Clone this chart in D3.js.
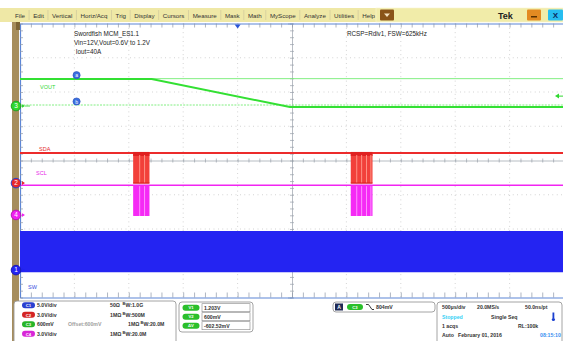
<!DOCTYPE html>
<html>
<head>
<meta charset="utf-8">
<script src="https://cdn.jsdelivr.net/npm/d3@7"></script>
<style>
  html, body { margin: 0; padding: 0; background: #fff; }
  svg { display: block; font-family: "Liberation Sans", Arial, sans-serif; }
</style>
</head>
<body>
<svg id="chart" width="563" height="341"></svg>
<script>
// ---------- Data ----------
const menuItems = ["File", "Edit", "Vertical", "Horiz/Acq", "Trig", "Display", "Cursors", "Measure", "Mask", "Math", "MyScope", "Analyze", "Utilities", "Help"];

// horizontal: 500us/div, 10 divisions, in ms
const timeDomain = [-2.5, 2.5];
// vertical: 8 divisions
const divDomain = [-4, 4];

// VOUT (ch3) in divisions
const voutTimes = [-2.5, -1.29, -0.02, 2.5];
const voutDivs = [2.38, 2.38, 1.56, 1.56];

// SDA (ch2) / SCL (ch4) idle and low levels, in divisions
const sdaLevels = [0.22, -0.66];
const sclLevels = [-0.72, -1.62];
// I2C bursts (ms)
const burstStart = [-1.46, 0.54];
const burstEnd = [-1.31, 0.74];
const burstEdges = [[-1.40, -1.355], [0.595, 0.64, 0.685, 0.725]];

// SW (ch1) switching envelope, in divisions
const swEnvelope = [-2.06, -3.26];

// cursors (ch3) in divisions, trigger level & position
const cursorDivs = [2.39, 1.62];
const cursorNames = ["a", "b"];
const trigLevelDiv = 1.88;
const trigPosMs = -0.5;

// channel ground markers
const chNames = ["3", "2", "4", "1"];
const chMarkerDivs = [1.59, -0.66, -1.59, -3.2];
const chColors = ["#2fd82f", "#e8262a", "#f01ef0", "#2222f0"];

// notes
const notesLeft = ["Swordfish MCM_ES1.1", "Vin=12V,Vout=0.6V to 1.2V", " Iout=40A"];
const noteRight = "RCSP=Rdiv1, FSW=625kHz";

// bottom readouts
const vertRows = [
  ["C1", "5.0V/div", "", "50\u03A9", "1.0G"],
  ["C2", "3.0V/div", "", "1M\u03A9", "500M"],
  ["C3", "600mV", "Offset:600mV", "1M\u03A9", "20.0M"],
  ["C4", "3.0V/div", "", "1M\u03A9", "20.0M"]
];
const pillColors = ["#2a3fd0", "#d42424", "#27b527", "#d826d8"];
const cursorReadLabels = ["V1", "V2", "\u0394V"];
const cursorReadValues = ["1.203V", "600mV", "-602.52mV"];
const trigReadout = ["A", "C3", "804mV"];
const horizRows = [
  ["500\u00B5s/div", "20.0MS/s", "50.0ns/pt"],
  ["Stopped", "Single Seq", ""],
  ["1 acqs", "", "RL:100k"],
  ["Auto", "February 01, 2016", "08:15:10"]
];

// ---------- Drawing ----------
const svg = d3.select("#chart");

// menu bar
svg.append("rect").attr("x", 0).attr("y", 0).attr("width", 563).attr("height", 8).attr("fill", "#fff");
svg.append("rect").attr("x", 0).attr("y", 8).attr("width", 563).attr("height", 14).attr("fill", "#efe8a6");
svg.append("rect").attr("x", 376).attr("y", 8).attr("width", 187).attr("height", 14).attr("fill", "#f1eca9")
  .attr("stroke", "#f8f4cf").attr("stroke-width", 0.6);

const menuG = svg.append("g").style("font-size", "6.2px").attr("fill", "#333");
const menuTexts = menuG.selectAll("text").data(menuItems).join("text").attr("y", 17.5).text(d => d);
const widths = [];
menuTexts.each(function () { widths.push(this.getComputedTextLength()); });
const totalW = d3.sum(widths);
const gap = (375 - 15 - totalW) / (menuItems.length - 1);
let mx = 15;
menuTexts.attr("x", (d, i) => { const v = mx; mx += widths[i] + gap; return v; });
mx = 15;
menuItems.slice(0, -1).forEach((d, i) => {
  mx += widths[i] + gap;
  menuG.append("line").attr("x1", mx - gap / 2).attr("x2", mx - gap / 2).attr("y1", 10).attr("y2", 20)
    .attr("stroke", "#c9c39a").attr("stroke-width", 0.6);
});

// menu buttons
svg.append("rect").attr("x", 380).attr("y", 9.5).attr("width", 14).attr("height", 11).attr("rx", 1).attr("fill", "#8a5418");
svg.append("path").attr("d", "M384,13.5 L390,13.5 L387,17 Z").attr("fill", "#f4e2c0");
svg.append("text").attr("x", 498).attr("y", 18.5).style("font-size", "9px").style("font-weight", "bold").attr("fill", "#222").text("Tek");
svg.append("rect").attr("x", 527).attr("y", 9.5).attr("width", 14).attr("height", 11).attr("rx", 1).attr("fill", "#e38a22");
svg.append("rect").attr("x", 531).attr("y", 16).attr("width", 6).attr("height", 1.5).attr("fill", "#5a3000");
svg.append("rect").attr("x", 548).attr("y", 9.5).attr("width", 15).attr("height", 11).attr("rx", 1).attr("fill", "#26bdf0");
svg.append("text").attr("x", 555.5).attr("y", 18).attr("text-anchor", "middle").style("font-size", "8px").style("font-weight", "bold").attr("fill", "#0a2a60").text("X");

// left tan strip
svg.append("rect").attr("x", 12).attr("y", 22).attr("width", 7).attr("height", 319).attr("fill", "#a68d5c");
svg.append("rect").attr("x", 16).attr("y", 22).attr("width", 4).attr("height", 8).attr("fill", "#7d6536");

// scales
const x = d3.scaleLinear().domain(timeDomain).range([20, 564]);
const y = d3.scaleLinear().domain(divDomain).range([297.5, 23.5]);

const plot = svg.append("g");
plot.append("rect").attr("x", 20).attr("y", 23.5).attr("width", 544).attr("height", 274).attr("fill", "#fff");

// dotted graticule
const majorT = d3.range(-2.5, 2.51, 0.5);
const majorV = d3.range(-4, 4.01, 1);
plot.selectAll("line.gx").data(majorT.filter(t => Math.abs(t) > 1e-6 && Math.abs(Math.abs(t) - 2.5) > 1e-6)).join("line")
  .attr("class", "gx").attr("x1", d => x(d)).attr("x2", d => x(d)).attr("y1", y(4)).attr("y2", y(-4))
  .attr("stroke", "#bdbdbd").attr("stroke-width", 0.8).attr("stroke-dasharray", "0.8,3.6");
plot.selectAll("line.gy").data(majorV.filter(v => v !== 0 && Math.abs(v) !== 4)).join("line")
  .attr("class", "gy").attr("x1", x(-2.5)).attr("x2", x(2.5)).attr("y1", d => y(d)).attr("y2", d => y(d))
  .attr("stroke", "#bdbdbd").attr("stroke-width", 0.8).attr("stroke-dasharray", "0.8,3.6");

// center cross axes with minor ticks
const axX = d3.axisBottom(x).tickValues(d3.range(-2.5, 2.51, 0.1)).tickSize(4).tickFormat("");
const axY = d3.axisLeft(y).tickValues(d3.range(-4, 4.01, 0.2)).tickSize(4).tickFormat("");
const cx = plot.append("g").attr("transform", `translate(0,${y(0) - 2})`).call(axX);
cx.select(".domain").attr("transform", "translate(0,2)");
const cy = plot.append("g").attr("transform", `translate(${x(0) + 2},0)`).call(axY);
cy.select(".domain").attr("transform", "translate(-2,0)");
[cx, cy].forEach(g => {
  g.selectAll("path,line").attr("stroke", "#9aa0aa").attr("stroke-width", 0.7);
});

// edge rulers
const topR = plot.append("g").attr("transform", `translate(0,${y(4)})`)
  .call(d3.axisBottom(x).tickValues(d3.range(-2.5, 2.51, 0.1)).tickSize(4).tickSizeOuter(0).tickFormat(""));
const botR = plot.append("g").attr("transform", `translate(0,${y(-4)})`)
  .call(d3.axisTop(x).tickValues(d3.range(-2.5, 2.51, 0.1)).tickSize(5).tickSizeOuter(0).tickFormat(""));
const leftR = plot.append("g").attr("transform", `translate(${x(-2.5)},0)`)
  .call(d3.axisRight(y).tickValues(d3.range(-4, 4.01, 0.2)).tickSize(3).tickSizeOuter(0).tickFormat(""));
[topR, botR, leftR].forEach(g => {
  g.selectAll("line").attr("stroke", "#8c96a8").attr("stroke-width", 0.7);
  g.select(".domain").attr("stroke", "#5d86d6").attr("stroke-width", 1.2);
});

// SW envelope (ch1)
plot.append("path")
  .datum(timeDomain)
  .attr("d", d3.area().x(d => x(d)).y0(y(swEnvelope[1])).y1(y(swEnvelope[0])))
  .attr("fill", "#2424f2");

// cursors
plot.selectAll("line.cur").data(cursorDivs).join("line").attr("class", "cur")
  .attr("x1", x(-2.5)).attr("x2", x(2.5)).attr("y1", d => y(d)).attr("y2", d => y(d))
  .attr("stroke", "#74ec74").attr("stroke-width", 0.9)
  .attr("stroke-dasharray", (d, i) => i === 1 ? "2,1.2" : null);

// VOUT trace
plot.append("path")
  .datum(d3.zip(voutTimes, voutDivs))
  .attr("d", d3.line().x(d => x(d[0])).y(d => y(d[1])))
  .attr("fill", "none").attr("stroke", "#33e033").attr("stroke-width", 2);

// SDA / SCL idle lines
plot.append("line").attr("x1", x(-2.5)).attr("x2", x(2.5)).attr("y1", y(sdaLevels[0])).attr("y2", y(sdaLevels[0]))
  .attr("stroke", "#ec2b2b").attr("stroke-width", 2);
plot.append("line").attr("x1", x(-2.5)).attr("x2", x(2.5)).attr("y1", y(sclLevels[0])).attr("y2", y(sclLevels[0]))
  .attr("stroke", "#f224f2").attr("stroke-width", 1.5);

// bursts
burstStart.forEach((t0, i) => {
  const t1 = burstEnd[i];
  plot.append("rect").attr("x", x(t0)).attr("width", x(t1) - x(t0))
    .attr("y", y(sdaLevels[0]) - 1).attr("height", y(sdaLevels[1]) - y(sdaLevels[0]) + 1)
    .attr("fill", "#f2403a");
  plot.append("rect").attr("x", x(t0)).attr("width", x(t1) - x(t0))
    .attr("y", y(sdaLevels[0]) - 1).attr("height", 4).attr("fill", "#e02020");
  plot.append("rect").attr("x", x(t0)).attr("width", x(t1) - x(t0))
    .attr("y", y(sclLevels[0])).attr("height", y(sclLevels[1]) - y(sclLevels[0]))
    .attr("fill", "#f52af5");
  burstEdges[i].forEach(e => {
    plot.append("line").attr("x1", x(e)).attr("x2", x(e)).attr("y1", y(sdaLevels[0]) + 2).attr("y2", y(sdaLevels[1]))
      .attr("stroke", "#ff9a8c").attr("stroke-width", 0.9);
    plot.append("line").attr("x1", x(e)).attr("x2", x(e)).attr("y1", y(sclLevels[0]) + 1).attr("y2", y(sclLevels[1]))
      .attr("stroke", "#ff9cff").attr("stroke-width", 0.9);
  });
  plot.append("line").attr("x1", x(t0)).attr("x2", x(t1)).attr("y1", y(sdaLevels[1])).attr("y2", y(sdaLevels[1]))
    .attr("stroke", "#d81c1c").attr("stroke-width", 1.2);
});

// trigger markers
plot.append("path").attr("transform", `translate(${x(2.5) - 6},${y(trigLevelDiv)})`)
  .attr("d", "M-3,0 L1,-2.5 L1,2.5 Z").attr("fill", "#2fd82f");
plot.append("line").attr("x1", x(2.5) - 5).attr("x2", x(2.5)).attr("y1", y(trigLevelDiv)).attr("y2", y(trigLevelDiv))
  .attr("stroke", "#2fd82f").attr("stroke-width", 1);
plot.append("path").attr("transform", `translate(${x(trigPosMs)},${y(4) + 1})`)
  .attr("d", "M-3,0 L3,0 L0,4 Z").attr("fill", "#2a55d8");

// cursor handles
const ch = plot.selectAll("g.ch").data(cursorDivs).join("g").attr("class", "ch")
  .attr("transform", (d, i) => `translate(${x(-1.98)},${y(d) - 3.5})`);
ch.append("circle").attr("r", 3.6).attr("fill", "#3a6fe0").attr("stroke", "#2a4fb8").attr("stroke-width", 0.6);
ch.append("text").attr("text-anchor", "middle").attr("y", 2).style("font-size", "5px").attr("fill", "#fff")
  .text((d, i) => cursorNames[i]);

// channel markers
const cm = svg.selectAll("g.cm").data(chMarkerDivs).join("g").attr("class", "cm")
  .attr("transform", d => `translate(16,${y(d)})`);
cm.append("circle").attr("r", 4.8).attr("fill", (d, i) => chColors[i])
  .attr("stroke", (d, i) => i === 1 ? "#2a3fd0" : d3.color(chColors[i]).darker(0.8)).attr("stroke-width", 1);
cm.append("text").attr("text-anchor", "middle").attr("y", 2.3).style("font-size", "6.5px").attr("fill", "#fff")
  .text((d, i) => chNames[i]);
cm.append("path").attr("d", "M6,-1.8 L9,0 L6,1.8 Z").attr("fill", (d, i) => chColors[i]);
cm.filter((d, i) => i === 0).append("line").attr("x1", 9).attr("x2", 14).attr("y1", 0).attr("y2", 0)
  .attr("stroke", "#2fd82f").attr("stroke-width", 0.8);

// channel labels
const lab = svg.append("g").style("font-size", "5.5px");
lab.append("text").attr("x", 40).attr("y", y(2.1)).attr("fill", "#33d833").text("VOUT");
lab.append("text").attr("x", 39).attr("y", y(0.28)).attr("fill", "#e42a2a").text("SDA");
lab.append("text").attr("x", 36).attr("y", y(-0.43)).attr("fill", "#e826e8").text("SCL");
lab.append("text").attr("x", 28).attr("y", y(-3.75)).attr("fill", "#3a4fe0").text("SW");

// notes
svg.append("g").style("font-size", "6.3px").attr("fill", "#222")
  .selectAll("text").data(notesLeft).join("text")
  .attr("x", 74).attr("y", (d, i) => 35.5 + i * 9).attr("xml:space", "preserve").text(d => d);
svg.append("text").attr("x", 347).attr("y", 35.5).style("font-size", "6.3px").attr("fill", "#222").text(noteRight);

// ---------- bottom readouts ----------
const ro = svg.append("g").style("font-size", "5.2px").style("font-weight", "bold").attr("fill", "#333");
function box(g, x0, y0, w, h) {
  g.append("rect").attr("x", x0).attr("y", y0).attr("width", w).attr("height", h).attr("rx", 3)
    .attr("fill", "#fff").attr("stroke", "#9a9a9a").attr("stroke-width", 0.9);
}
function pill(g, cxp, cyp, label, color, w) {
  g.append("rect").attr("x", cxp - w / 2).attr("y", cyp - 3).attr("width", w).attr("height", 6).attr("rx", 3)
    .attr("fill", color);
  g.append("text").attr("x", cxp).attr("y", cyp + 1.7).attr("text-anchor", "middle").style("font-size", "4.2px")
    .attr("fill", "#fff").text(label);
}
function bw(g, xp, yp, val) {
  const t = g.append("text").attr("x", xp).attr("y", yp);
  t.append("tspan").style("font-size", "4px").attr("dy", -2).text("B");
  t.append("tspan").attr("dy", 2).text("W:" + val);
}

box(ro, 14, 301, 162, 45);
vertRows.forEach((r, i) => {
  const yc = 305.3 + i * 9.5;
  pill(ro, 28.5, yc, r[0], pillColors[i], 13);
  ro.append("text").attr("x", 37).attr("y", yc + 2).text(r[1]);
  if (r[2]) ro.append("text").attr("x", 68).attr("y", yc + 2).attr("fill", "#a0a0a0").text(r[2]);
  const ox = r[2] ? 128 : 110;
  ro.append("text").attr("x", ox).attr("y", yc + 2).text(r[3]);
  bw(ro, ox + 12.5, yc + 2, r[4]);
});

box(ro, 179, 302, 74, 30);
cursorReadLabels.forEach((l, i) => {
  const yc = 307.7 + i * 9;
  pill(ro, 191, yc, l, "#2bbf2b", 17);
  ro.append("rect").attr("x", 202).attr("y", yc - 4).attr("width", 48).attr("height", 8)
    .attr("fill", "#fff").attr("stroke", "#888").attr("stroke-width", 0.6);
  ro.append("text").attr("x", 204).attr("y", yc + 2).text(cursorReadValues[i]);
});

box(ro, 333, 302, 102, 10);
ro.append("rect").attr("x", 335).attr("y", 303.5).attr("width", 8).attr("height", 7).attr("fill", "#1f2a55");
ro.append("text").attr("x", 339).attr("y", 309.3).attr("text-anchor", "middle").style("font-size", "5px").attr("fill", "#fff").text(trigReadout[0]);
pill(ro, 355, 307, trigReadout[1], "#2bbf2b", 16);
ro.append("path").attr("d", "M366,304.5 L368.5,304.5 L372,309.5 L374,309.5").attr("fill", "none")
  .attr("stroke", "#222").attr("stroke-width", 0.9);
ro.append("text").attr("x", 376).attr("y", 309).text(trigReadout[2]);

box(ro, 437, 302, 125, 44);
// column x per row: [first, middle, last]
const hCols = [[442, 477, 525], [442, 491, 0], [442, 0, 518], [442, 458, 540]];
horizRows.forEach((r, i) => {
  const yb = [309, 319, 327.5, 337][i];
  ro.append("text").attr("x", hCols[i][0]).attr("y", yb).attr("fill", i === 1 ? "#35d0f5" : "#333").text(r[0]);
  if (r[1]) ro.append("text").attr("x", hCols[i][1]).attr("y", yb).text(r[1]);
  if (r[2]) ro.append("text").attr("x", hCols[i][2]).attr("y", yb)
    .attr("fill", i === 3 ? "#3a8ff0" : "#333").text(r[2]);
});
// run-state icon
ro.append("rect").attr("x", 552.5).attr("y", 312.5).attr("width", 1.8).attr("height", 6).attr("fill", "#1a3fd0");
ro.append("circle").attr("cx", 553.4).attr("cy", 319.5).attr("r", 1.6).attr("fill", "#1a3fd0");
</script>
</body>
</html>
